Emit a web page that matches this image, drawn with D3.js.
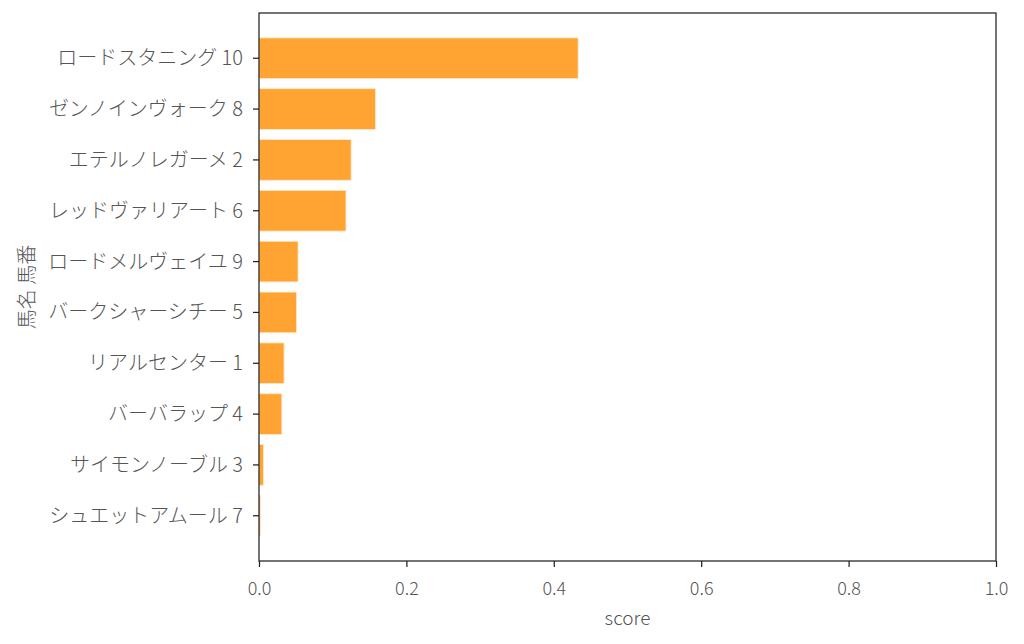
<!DOCTYPE html>
<html>
<head>
<meta charset="utf-8">
<script src="https://cdn.jsdelivr.net/npm/d3@7"></script>
<style>
  body { margin: 0; background: #fff; }
  text { font-family: "Noto Sans CJK JP Light", "Noto Sans CJK JP", "Noto Sans", sans-serif; font-weight: 200; }
</style>
</head>
<body>
<div id="chart"></div>
<script>
// horse names + numbers, sorted by score
var horses = ["ロードスタニング 10", "ゼンノインヴォーク 8", "エテルノレガーメ 2", "レッドヴァリアート 6",
  "ロードメルヴェイユ 9", "バークシャーシチー 5", "リアルセンター 1", "バーバラップ 4",
  "サイモンノーブル 3", "シュエットアムール 7"];
var scores = [0.433, 0.158, 0.125, 0.118, 0.053, 0.051, 0.034, 0.031, 0.006, 0.002];
var xTicks = [0.0, 0.2, 0.4, 0.6, 0.8, 1.0];

const width = 1024, height = 644;
const plotLeft = 259, plotRight = 996, plotTop = 13, plotBottom = 561;

var svg = d3.select("#chart").append("svg")
    .attr("width", width)
    .attr("height", height);

var x = d3.scaleLinear().domain([0, 1]).range([plotLeft, plotRight]);
// matplotlib style: bars 0.8 tall, 5% margin around
var y = d3.scaleBand().domain(horses).range([plotTop, plotBottom])
    .paddingInner(0.2).paddingOuter(0.49);

//bars
svg.selectAll("rect.bar")
    .data(horses)
    .enter().append("rect")
    .attr("class", "bar")
    .attr("x", x(0))
    .attr("y", d => y(d))
    .attr("width", (d, i) => x(scores[i]) - x(0))
    .attr("height", y.bandwidth())
    .attr("fill", "#ffa333")
    .attr("stroke", "#ffe9cc")
    .attr("stroke-width", 0.8);

// x axis
var xAxis = svg.append("g")
    .attr("transform", "translate(0," + plotBottom + ")")
    .call(d3.axisBottom(x).tickValues(xTicks).tickFormat(d3.format(".1f")).tickSize(6).tickSizeOuter(0));
xAxis.selectAll("text").attr("font-size", 18).attr("fill", "#555")
    .attr("y", 34).attr("dy", null);

// y axis
var yAxis = svg.append("g")
    .attr("transform", "translate(" + plotLeft + ",0)")
    .call(d3.axisLeft(y).tickSize(6).tickSizeOuter(0).tickPadding(10));
yAxis.selectAll("text").attr("font-size", 20).attr("fill", "#555").attr("dy", "0.35em");

svg.selectAll(".domain").remove();
svg.selectAll(".tick line").attr("stroke", "#222").attr("stroke-width", 1.25);

// frame
svg.append("rect")
    .attr("x", plotLeft)
    .attr("y", plotTop)
    .attr("width", plotRight - plotLeft)
    .attr("height", plotBottom - plotTop)
    .attr("fill", "none")
    .attr("stroke", "#222")
    .attr("stroke-width", 1.25);

// axis labels
svg.append("text")
    .attr("x", (plotLeft + plotRight) / 2)
    .attr("y", 625)
    .attr("text-anchor", "middle")
    .attr("font-size", 19)
    .attr("fill", "#555")
    .text("score");

svg.append("text")
    .attr("transform", "translate(34," + (plotTop + plotBottom) / 2 + ") rotate(-90)")
    .attr("text-anchor", "middle")
    .attr("font-size", 20)
    .attr("fill", "#555")
    .text("馬名 馬番");
</script>
</body>
</html>
